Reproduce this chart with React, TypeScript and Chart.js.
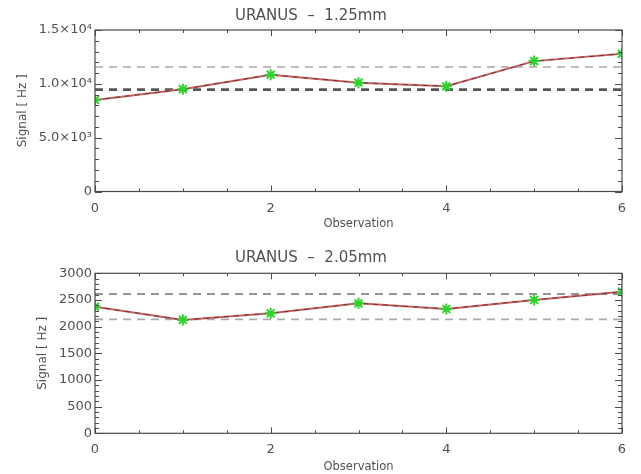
import React, { useEffect, useRef } from "react";
import { Chart, registerables } from "chart.js";

Chart.register(...registerables);

// ---------- data ----------
const observations = [0, 1, 2, 3, 4, 5, 6];

const signal125 = [8500, 9500, 10850, 10110, 9770, 12110, 12790];
const ref125Upper = 11560;
const ref125Lower = 9460;

const signal205 = [2375, 2125, 2250, 2437, 2331, 2500, 2655];
const ref205Upper = 2612;
const ref205Lower = 2137;

const title125 = "URANUS  \u2013  1.25mm";
const title205 = "URANUS  \u2013  2.05mm";
const xTitle = "Observation";
const yTitle = "Signal [ Hz ]";

const xTickValues = [0, 2, 4, 6];
const yTickValues125 = [0, 5000, 10000, 15000];
const yTickLabels125 = ["0", "5.0\u00d710\u00b3", "1.0\u00d710\u2074", "1.5\u00d710\u2074"];
const yTickValues205 = [0, 500, 1000, 1500, 2000, 2500, 3000];
const yTickLabels205 = ["0", "500", "1000", "1500", "2000", "2500", "3000"];

const FONT = "'DejaVu Sans', 'Liberation Sans', sans-serif";
const TEXT = "#505050";

// frame with inward major/minor ticks on all four sides
const framePlugin = {
  id: "frame",
  afterDatasetsDraw(chart: any, _args: any, opts: any) {
    const { ctx, chartArea: a, scales } = chart;
    const xs = scales.x;
    const ys = scales.y;
    ctx.save();
    ctx.strokeStyle = "#4a4a4a";
    ctx.lineWidth = 1.2;
    ctx.strokeRect(a.left, a.top, a.right - a.left, a.bottom - a.top);
    ctx.lineWidth = 1;
    const isMajor = (v: number, m: number) => Math.abs(v / m - Math.round(v / m)) < 1e-6;
    ctx.beginPath();
    for (let v = xs.min; v <= xs.max + 1e-9; v += opts.xMinor) {
      const px = Math.round(xs.getPixelForValue(v)) + 0.5;
      const len = isMajor(v, opts.xMajor) ? 6 : 3;
      ctx.moveTo(px, a.bottom);
      ctx.lineTo(px, a.bottom - len);
      ctx.moveTo(px, a.top);
      ctx.lineTo(px, a.top + len);
    }
    for (let v = ys.min; v <= ys.max + 1e-9; v += opts.yMinor) {
      const py = Math.round(ys.getPixelForValue(v)) + 0.5;
      const len = isMajor(v, opts.yMajor) ? 7 : 4;
      ctx.moveTo(a.left, py);
      ctx.lineTo(a.left + len, py);
      ctx.moveTo(a.right, py);
      ctx.lineTo(a.right - len, py);
    }
    ctx.stroke();
    ctx.restore();
  },
};

type LineStyle = { color: string; width: number };

type PanelProps = {
  title: string;
  values: number[];
  refUpper: number;
  refLower: number;
  upperStyle: LineStyle;
  lowerStyle: LineStyle;
  yMax: number;
  yTickValues: number[];
  yTickLabels: string[];
  yMajor: number;
  yMinor: number;
  titlePad: { top: number; bottom: number };
  xAxisHeight: number;
  yTitlePadTop: number;
  xTitlePadBottom: number;
};

function Panel(p: PanelProps) {
  const ref = useRef<HTMLCanvasElement | null>(null);
  useEffect(() => {
    if (!ref.current) return;
    const pts = observations.map((x, i) => ({ x, y: p.values[i] }));
    const first = observations[0];
    const last = observations[observations.length - 1];
    const chart = new Chart(ref.current, {
      type: "line",
      data: {
        datasets: [
          {
            data: pts,
            showLine: false,
            pointStyle: "star",
            pointRadius: 5.5,
            pointBorderWidth: 2,
            pointBorderColor: "#2bd42b",
            pointBackgroundColor: "#2bd42b",
          },
          {
            data: pts,
            borderColor: "rgba(40,0,0,0.5)",
            borderWidth: 1,
            borderDash: [5, 5],
            pointRadius: 0,
            tension: 0,
          },
          {
            data: pts,
            borderColor: "#c46060",
            borderWidth: 2,
            pointRadius: 0,
            tension: 0,
          },
          {
            data: [
              { x: first, y: p.refUpper },
              { x: last, y: p.refUpper },
            ],
            borderColor: p.upperStyle.color,
            borderWidth: p.upperStyle.width,
            borderDash: [8, 6],
            pointRadius: 0,
          },
          {
            data: [
              { x: first, y: p.refLower },
              { x: last, y: p.refLower },
            ],
            borderColor: p.lowerStyle.color,
            borderWidth: p.lowerStyle.width,
            borderDash: [8, 6],
            pointRadius: 0,
          },
        ],
      },
      options: {
        animation: false,
        responsive: false,
        devicePixelRatio: 1,
        layout: { padding: { left: 0, right: 19, top: 0, bottom: 0 } },
        plugins: {
          legend: { display: false },
          tooltip: { enabled: false },
          title: {
            display: true,
            text: p.title,
            color: TEXT,
            font: { family: FONT, size: 15, weight: "normal" },
            padding: p.titlePad,
          },
          frame: { xMajor: 2, xMinor: 0.5, yMajor: p.yMajor, yMinor: p.yMinor },
        } as any,
        scales: {
          x: {
            type: "linear",
            min: 0,
            max: 6,
            afterBuildTicks: (s: any) => {
              s.ticks = xTickValues.map((v) => ({ value: v }));
            },
            afterFit: (s: any) => {
              s.height = p.xAxisHeight;
            },
            grid: { display: false, drawTicks: false },
            border: { display: false },
            ticks: {
              color: TEXT,
              font: { family: FONT, size: 13 },
              padding: 9,
              callback: (v: any) => String(v),
            },
            title: {
              display: true,
              text: xTitle,
              color: TEXT,
              font: { family: FONT, size: 11.5 },
              padding: { top: 0, bottom: p.xTitlePadBottom },
            },
          },
          y: {
            type: "linear",
            min: 0,
            max: p.yMax,
            afterBuildTicks: (s: any) => {
              s.ticks = p.yTickValues.map((v) => ({ value: v }));
            },
            afterFit: (s: any) => {
              s.width = 95;
            },
            grid: { display: false, drawTicks: false },
            border: { display: false },
            ticks: {
              color: TEXT,
              font: { family: FONT, size: 13 },
              padding: 3,
              callback: (v: any) => {
                const i = p.yTickValues.indexOf(Number(v));
                return i >= 0 ? p.yTickLabels[i] : "";
              },
            },
            title: {
              display: true,
              text: yTitle,
              color: TEXT,
              font: { family: FONT, size: 12 },
              padding: { top: p.yTitlePadTop, bottom: 0 },
            },
          },
        },
      },
      plugins: [framePlugin],
    } as any);
    return () => chart.destroy();
  }, []);
  return <canvas ref={ref} width={641} height={237} style={{ display: "block", width: 641, height: 237 }} />;
}

export default function App() {
  return (
    <div style={{ position: "absolute", left: 0, top: 0, width: 641, height: 474, background: "#fff" }}>
      <Panel
        title={title125}
        values={signal125}
        refUpper={ref125Upper}
        refLower={ref125Lower}
        upperStyle={{ color: "#a8a8a8", width: 1.6 }}
        lowerStyle={{ color: "#555555", width: 2.6 }}
        yMax={15000}
        yTickValues={yTickValues125}
        yTickLabels={yTickLabels125}
        yMajor={5000}
        yMinor={1000}
        titlePad={{ top: 7, bottom: 5 }}
        xAxisHeight={45.5}
        yTitlePadTop={16}
        xTitlePadBottom={6}
      />
      <Panel
        title={title205}
        values={signal205}
        refUpper={ref205Upper}
        refLower={ref205Lower}
        upperStyle={{ color: "#707070", width: 1.6 }}
        lowerStyle={{ color: "#ababab", width: 1.6 }}
        yMax={3000}
        yTickValues={yTickValues205}
        yTickLabels={yTickLabels205}
        yMajor={500}
        yMinor={100}
        titlePad={{ top: 12.5, bottom: 5.8 }}
        xAxisHeight={40.7}
        yTitlePadTop={36}
        xTitlePadBottom={0}
      />
    </div>
  );
}
